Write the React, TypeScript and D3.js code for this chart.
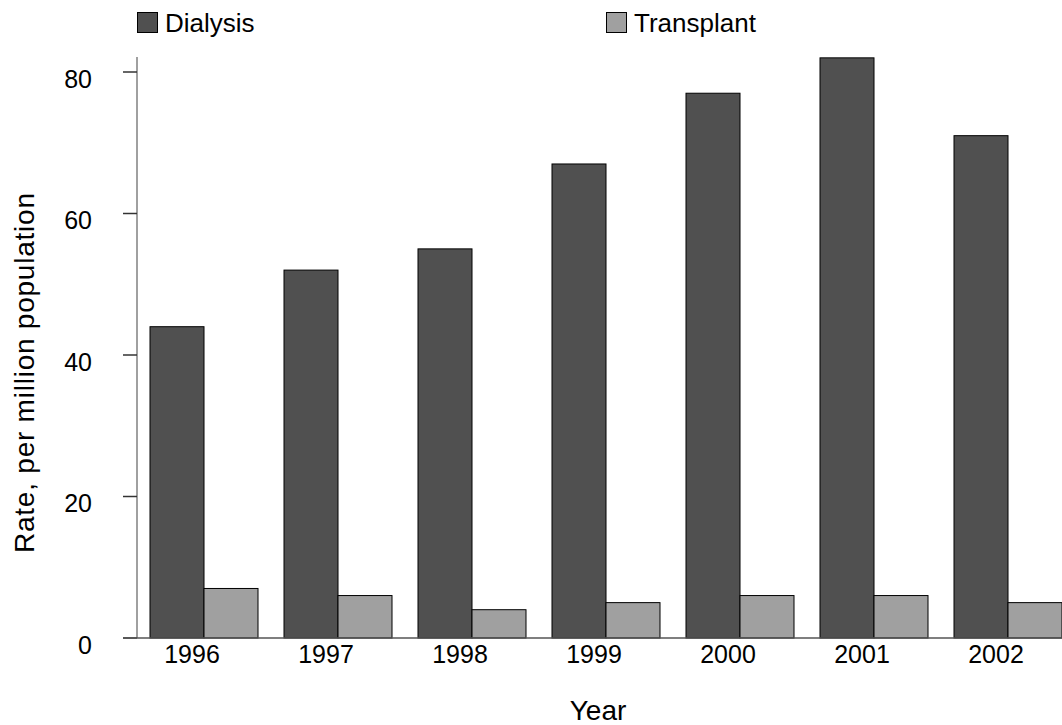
import React from "react";
import * as d3 from "d3";

const years = ["1996", "1997", "1998", "1999", "2000", "2001", "2002"];
const seriesNames = ["Dialysis", "Transplant"];
const dialysis = [44, 52, 55, 67, 77, 82, 71];
const transplant = [7, 6, 4, 5, 6, 6, 5];
const yTicks = [0, 20, 40, 60, 80];
const colors = ["#505050", "#a0a0a0"];

const W = 1062;
const H = 725;
const FONT = "'Liberation Sans', Arial, Helvetica, sans-serif";

export default function App() {
  const x = d3
    .scaleBand<string>()
    .domain(years)
    .range([137, 1075])
    .paddingInner(26 / 134)
    .paddingOuter(13 / 134);
  const inner = d3.scaleBand<string>().domain(seriesNames).range([0, x.bandwidth()]);
  const y = d3.scaleLinear().domain([0, 80]).range([638, 72]);
  const seriesData = [dialysis, transplant];
  const legendX = [137, 606];

  return (
    <svg
      width={W}
      height={H}
      style={{ position: "absolute", left: 0, top: 0, background: "#fff" }}
      fontFamily={FONT}
    >
      <rect x={0} y={0} width={W} height={H} fill="#fff" />
      {/* legend */}
      {seriesNames.map((s, i) => (
        <g key={s}>
          <rect x={legendX[i] + 0.5} y={12.5} width={20} height={20} fill={colors[i]} stroke="#000" strokeWidth={1} />
          <text x={legendX[i] + 28} y={32} fontSize={26} fill="#000">
            {s}
          </text>
        </g>
      ))}
      {/* bars */}
      {years.map((yr, gi) => (
        <g key={yr}>
          {seriesNames.map((s, si) => {
            const v = seriesData[si][gi];
            const bx = (x(yr) as number) + (inner(s) as number);
            return (
              <rect
                key={s}
                x={bx}
                y={y(v)}
                width={inner.bandwidth()}
                height={y(0) - y(v)}
                fill={colors[si]}
                stroke="#000"
                strokeWidth={1}
              />
            );
          })}
        </g>
      ))}
      {/* y axis */}
      <line x1={137} x2={137} y1={57} y2={y(0)} stroke="#808080" strokeWidth={1.5} />
      {yTicks.map((t) => (
        <g key={t}>
          <line x1={123} x2={137} y1={y(t)} y2={y(t)} stroke="#333" strokeWidth={1.5} />
          <text x={92} y={y(t) + 15.5} fontSize={25} textAnchor="end" fill="#000">
            {t}
          </text>
        </g>
      ))}
      {/* x axis baseline */}
      <line x1={123} x2={W} y1={y(0)} y2={y(0)} stroke="#555" strokeWidth={1.5} />
      {years.map((yr) => (
        <text
          key={yr}
          x={(x(yr) as number) + x.bandwidth() / 2 - 12}
          y={663}
          fontSize={25}
          textAnchor="middle"
          fill="#000"
        >
          {yr}
        </text>
      ))}
      {/* axis titles */}
      <text x={598} y={720} fontSize={28} textAnchor="middle" fill="#000">
        Year
      </text>
      <text
        transform={`translate(34, 373) rotate(-90)`}
        fontSize={28}
        textAnchor="middle"
        fill="#000"
        textLength={360}
        lengthAdjust="spacing"
      >
        Rate, per million population
      </text>
    </svg>
  );
}
